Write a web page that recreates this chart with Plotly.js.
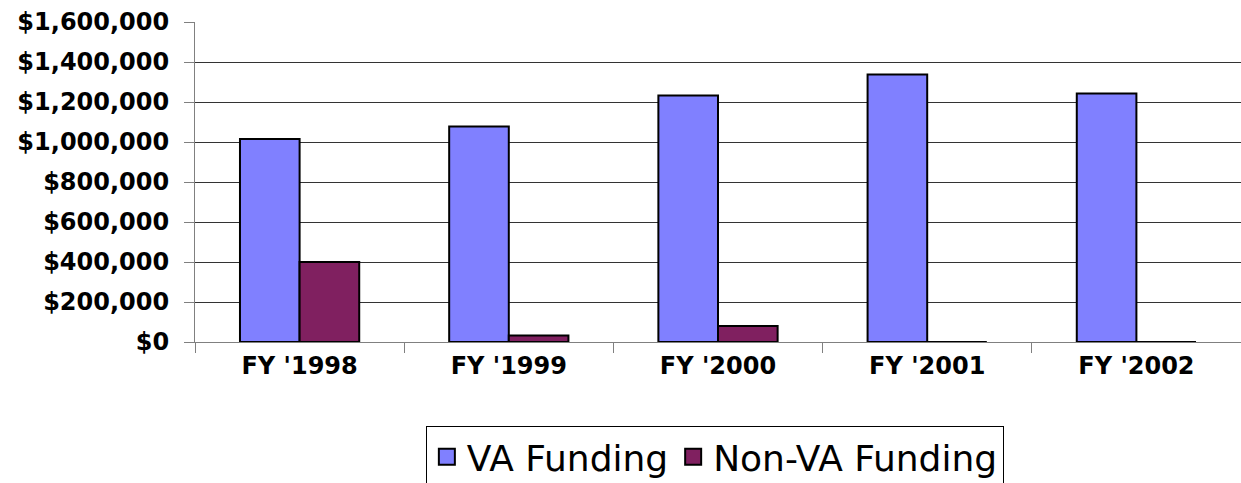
<!DOCTYPE html>
<html><head><meta charset="utf-8">
<script src="https://cdn.plot.ly/plotly-3.0.1.min.js"></script>
<style>html,body{margin:0;padding:0;background:#fff;overflow:hidden}</style>
</head><body>
<div id="chart" style="width:1241px;height:483px"></div>
<script>
const categories = ["FY '1998", "FY '1999", "FY '2000", "FY '2001", "FY '2002"];
const vaFunding = [1015000, 1077000, 1233000, 1337000, 1243000];
const nonVaFunding = [400000, 32000, 80000, 0, 0];
const seriesNames = ["VA Funding", "Non-VA Funding"];
const seriesColors = ["#8080FF", "#802060"];
const yTickVals = [0, 200000, 400000, 600000, 800000, 1000000, 1200000, 1400000, 1600000];
const yTickText = ["$0", "$200,000", "$400,000", "$600,000", "$800,000", "$1,000,000", "$1,200,000", "$1,400,000", "$1,600,000"];

const barLine = {color: "#000", width: 2};
const traces = [
  {type: "bar", x: categories, y: vaFunding, name: seriesNames[0], showlegend: false,
   marker: {color: seriesColors[0], line: barLine}, hoverinfo: "skip"},
  {type: "bar", x: categories, y: nonVaFunding, name: seriesNames[1], showlegend: false,
   marker: {color: seriesColors[1], line: barLine}, hoverinfo: "skip"},
  {type: "scatter", mode: "markers", x: [null], y: [null], name: seriesNames[0],
   marker: {symbol: "square", size: 22, color: seriesColors[0], line: {color: "#000", width: 2}}},
  {type: "scatter", mode: "markers", x: [null], y: [null], name: seriesNames[1],
   marker: {symbol: "square", size: 22, color: seriesColors[1], line: {color: "#000", width: 2}}}
];

const tickFont = {size: 24, family: "DejaVu Sans, sans-serif", weight: "bold", color: "#000"};
const layout = {
  width: 1241, height: 483,
  margin: {l: 195, r: 0, t: 22, b: 141, autoexpand: false},
  paper_bgcolor: "#fff", plot_bgcolor: "#fff",
  barmode: "group", bargap: 0.43, bargroupgap: 0,
  font: {family: "DejaVu Sans, sans-serif", color: "#000"},
  xaxis: {
    type: "category", range: [-0.5, 4.5],
    showline: true, linecolor: "#808080", linewidth: 1,
    ticks: "outside", tickson: "boundaries", ticklen: 10, tickcolor: "#808080",
    tickfont: tickFont, ticklabelstandoff: 2,
    showgrid: false
  },
  yaxis: {
    range: [0, 1600000], tickvals: yTickVals, ticktext: yTickText,
    showline: true, linecolor: "#808080", linewidth: 1,
    ticks: "outside", ticklen: 10, tickcolor: "#808080",
    showgrid: true, gridcolor: "#333", gridwidth: 1,
    zeroline: false,
    tickfont: tickFont,
    ticklabelstandoff: 10
  },
  showlegend: true,
  legend: {
    orientation: "h", x: 0.497, xanchor: "center", y: -0.262, yanchor: "top",
    bordercolor: "#000", borderwidth: 1, bgcolor: "#fff",
    font: {size: 36, family: "DejaVu Sans, sans-serif", color: "#000"},
    itemwidth: 30, tracegroupgap: 0
  }
};
Plotly.newPlot("chart", traces, layout, {staticPlot: true, displayModeBar: false});
</script>
</body></html>
